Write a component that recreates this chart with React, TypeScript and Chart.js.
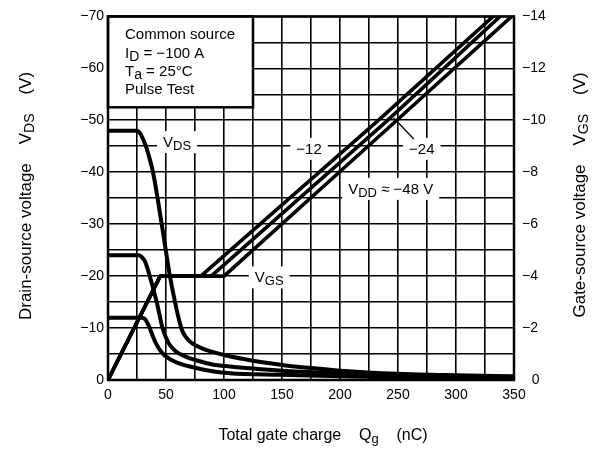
import React, { useEffect, useRef } from 'react';
import { Chart, registerables } from 'chart.js';

Chart.register(...registerables);

const FONT = '"Liberation Sans", Arial, Helvetica, sans-serif';

// ---- tick labels ----
const chargeTicks = [0, 50, 100, 150, 200, 250, 300, 350];
const vdsTicks = [0, -10, -20, -30, -40, -50, -60, -70];
const vgsTicks = [0, -2, -4, -6, -8, -10, -12, -14];

// ---- V_DS curves (left axis, V) vs gate charge (nC) ----
const vds48Q = [0, 24, 27, 30, 33, 38.8, 46.3, 53.4, 57.8, 61, 64, 68, 73, 80, 90, 100, 125, 150, 175, 200, 250, 300, 350];
const vds48V = [-48, -48, -47.7, -46.5, -44.8, -40, -30, -20, -15, -11.8, -9.5, -8, -7, -6.2, -5.4, -4.8, -3.7, -2.9, -2.3, -1.8, -1.2, -0.9, -0.7];

const vds24Q = [0, 26, 29, 32, 36, 42, 47, 52, 58, 66, 76, 90, 105, 125, 150, 200, 250, 300, 350];
const vds24V = [-24, -24, -23.7, -22.8, -20, -15, -10, -7.2, -5.6, -4.6, -3.8, -3.0, -2.6, -2.2, -1.8, -1.3, -1.0, -0.7, -0.5];

const vds12Q = [0, 29, 32, 35, 38, 41, 46, 52, 60, 76, 90, 105, 148, 200, 250, 300, 350];
const vds12V = [-12, -12, -11.7, -10.5, -8.8, -7.2, -5.4, -4.2, -3.3, -2.3, -1.7, -1.3, -1.0, -0.7, -0.5, -0.4, -0.3];

// ---- V_GS curves (right axis, V) ----
const vgs12Q = [0, 45, 80, 233, 332];
const vgs24Q = [0, 45, 89, 241, 338];
const vgs48Q = [0, 45, 100, 249, 348];
const vgsV = [0, -4, -4, -10, -14];

const zip = (q: number[], v: number[]) => q.map((x, i) => ({ x, y: v[i] }));
const fmt = (v: number) => (v === 0 ? '0' : '\u2212' + Math.abs(v));

type Part = { t: string; sub?: boolean };

function richWidth(ctx: CanvasRenderingContext2D, parts: Part[], size: number, subSize: number) {
  let w = 0;
  for (const p of parts) {
    ctx.font = `${p.sub ? subSize : size}px ${FONT}`;
    w += ctx.measureText(p.t).width;
  }
  return w;
}
function drawRich(ctx: CanvasRenderingContext2D, parts: Part[], x: number, y: number, size: number, subSize: number, shift: number) {
  ctx.textBaseline = 'alphabetic';
  ctx.textAlign = 'left';
  let cx = x;
  for (const p of parts) {
    ctx.font = `${p.sub ? subSize : size}px ${FONT}`;
    ctx.fillText(p.t, cx, p.sub ? y + shift : y);
    cx += ctx.measureText(p.t).width;
  }
}

const decor = {
  id: 'decor',
  beforeDatasetsDraw(chart: any) {
    const { ctx, chartArea: a, scales } = chart;
    const x = scales.x, y = scales.y, y2 = scales.y2;
    ctx.save();
    // info box
    const bx0 = x.getPixelForValue(0), bx1 = x.getPixelForValue(125);
    const by0 = y.getPixelForValue(-70), by1 = y.getPixelForValue(-52.5);
    ctx.fillStyle = '#fff';
    ctx.fillRect(bx0, by0, bx1 - bx0, by1 - by0);
    ctx.strokeStyle = '#000';
    ctx.lineWidth = 2.5;
    ctx.strokeRect(bx0, by0, bx1 - bx0, by1 - by0);
    ctx.fillStyle = '#000';
    const info: Part[][] = [
      [{ t: 'Common source' }],
      [{ t: 'I' }, { t: 'D', sub: true }, { t: ' = \u2212100 A' }],
      [{ t: 'T' }, { t: 'a', sub: true }, { t: ' = 25°C' }],
      [{ t: 'Pulse Test' }],
    ];
    const offs = [22.3, 41.5, 60, 77.7];
    info.forEach((ln, i) => drawRich(ctx, ln, bx0 + 17, by0 + offs[i], 15, 14, 3));

    // in-plot labels with white background
    const label = (parts: Part[], px: number, py: number) => {
      const w = richWidth(ctx, parts, 15, 13);
      ctx.fillStyle = '#fff';
      ctx.fillRect(px - w / 2 - 6, py - 11, w + 12, 22);
      ctx.fillStyle = '#000';
      drawRich(ctx, parts, px - w / 2, py + 5, 15, 13, 3);
    };
    label([{ t: 'V' }, { t: 'DS', sub: true }], x.getPixelForValue(59.5), y.getPixelForValue(-45.8));
    label([{ t: 'V' }, { t: 'GS', sub: true }], x.getPixelForValue(139), y2.getPixelForValue(-3.95));
    label([{ t: '\u221212' }], x.getPixelForValue(173.3), y2.getPixelForValue(-8.9));
    label([{ t: '\u221224' }], x.getPixelForValue(270.5), y2.getPixelForValue(-8.9));
    label([{ t: 'V' }, { t: 'DD', sub: true }, { t: ' \u2248 \u221248 V' }], x.getPixelForValue(243.7), y2.getPixelForValue(-7.36));

    // pointer for -24
    ctx.strokeStyle = '#000';
    ctx.lineWidth = 1.3;
    ctx.beginPath();
    ctx.moveTo(x.getPixelForValue(263.6), y2.getPixelForValue(-9.28));
    ctx.lineTo(x.getPixelForValue(246.3), y2.getPixelForValue(-10.09));
    ctx.stroke();

    // plot border
    ctx.lineWidth = 2.5;
    ctx.strokeRect(a.left, a.top, a.right - a.left, a.bottom - a.top);
    ctx.restore();
  },
  afterDraw(chart: any) {
    const { ctx } = chart;
    ctx.save();
    ctx.fillStyle = '#000';
    // bottom title
    const bt: Part[] = [{ t: 'Total gate charge    Q' }, { t: 'g', sub: true }, { t: '    (nC)' }];
    const bw = richWidth(ctx, bt, 16, 13);
    drawRich(ctx, bt, 323 - bw / 2, 440, 16, 13, 3);
    // left title
    const lt: Part[] = [{ t: 'Drain-source voltage    V' }, { t: 'DS', sub: true }, { t: '    (V)' }];
    const lw = richWidth(ctx, lt, 17, 14);
    ctx.save();
    ctx.translate(31, 196);
    ctx.rotate(-Math.PI / 2);
    drawRich(ctx, lt, -lw / 2, 0, 17, 14, 3);
    ctx.restore();
    // right title
    const rt: Part[] = [{ t: 'Gate-source voltage    V' }, { t: 'GS', sub: true }, { t: '    (V)' }];
    const rw = richWidth(ctx, rt, 17, 14);
    ctx.save();
    ctx.translate(585, 195);
    ctx.rotate(-Math.PI / 2);
    drawRich(ctx, rt, -rw / 2, 0, 17, 14, 3);
    ctx.restore();
    ctx.restore();
  },
};

export default function App() {
  const ref = useRef<HTMLCanvasElement>(null);
  useEffect(() => {
    document.body.style.margin = '0';
    const canvas = ref.current!;
    const line = (data: { x: number; y: number }[], axis: string, curved: boolean) => ({
      data,
      yAxisID: axis,
      borderColor: '#000',
      borderWidth: curved ? 4 : 3.6,
      pointRadius: 0,
      fill: false,
      cubicInterpolationMode: curved ? 'monotone' : 'default',
      tension: 0,
      borderCapStyle: 'butt',
      borderJoinStyle: 'round',
    });
    const tickFont = { family: FONT, size: 14 };
    const chart = new Chart(canvas, {
      type: 'line',
      data: {
        datasets: [
          line(zip(vds48Q, vds48V), 'y', true),
          line(zip(vds24Q, vds24V), 'y', true),
          line(zip(vds12Q, vds12V), 'y', true),
          line(zip(vgs12Q, vgsV), 'y2', false),
          line(zip(vgs24Q, vgsV), 'y2', false),
          line(zip(vgs48Q, vgsV), 'y2', false),
        ] as any,
      },
      options: {
        animation: false,
        responsive: false,
        devicePixelRatio: 1,
        layout: { padding: { top: 15, left: 0, right: 0, bottom: 0 } },
        plugins: { legend: { display: false }, tooltip: { enabled: false }, title: { display: false } },
        scales: {
          x: {
            type: 'linear',
            min: 0,
            max: 350,
            grid: { color: '#000', lineWidth: 1.6, drawTicks: false },
            border: { display: false },
            ticks: {
              stepSize: 25,
              autoSkip: false,
              maxRotation: 0,
              padding: 7,
              color: '#000',
              font: tickFont,
              callback: (v: any) => (chargeTicks.includes(Number(v)) ? String(v) : ''),
            },
            afterFit: (s: any) => { s.height = 70; },
          },
          y: {
            type: 'linear',
            position: 'left',
            min: -70,
            max: 0,
            reverse: true,
            grid: { color: '#000', lineWidth: 1.6, drawTicks: false },
            border: { display: false },
            ticks: {
              stepSize: 5,
              autoSkip: false,
              padding: 4,
              color: '#000',
              font: tickFont,
              callback: (v: any) => (vdsTicks.includes(Number(v)) ? fmt(Number(v)) : ''),
            },
            afterFit: (s: any) => { s.width = 108; },
          },
          y2: {
            type: 'linear',
            position: 'right',
            min: -14,
            max: 0,
            reverse: true,
            grid: { display: false, drawTicks: false },
            border: { display: false },
            ticks: {
              stepSize: 1,
              autoSkip: false,
              padding: 8,
              color: '#000',
              font: tickFont,
              callback: (v: any) => (vgsTicks.includes(Number(v)) ? (Number(v) === 0 ? '\u2002\u20090' : fmt(Number(v))) : ''),
            },
            afterFit: (s: any) => { s.width = 87; },
          },
        },
      } as any,
      plugins: [decor],
    });
    return () => chart.destroy();
  }, []);
  return (
    <div style={{ width: 601, height: 450 }}>
      <canvas ref={ref} width={601} height={450} style={{ display: 'block' }} />
    </div>
  );
}
